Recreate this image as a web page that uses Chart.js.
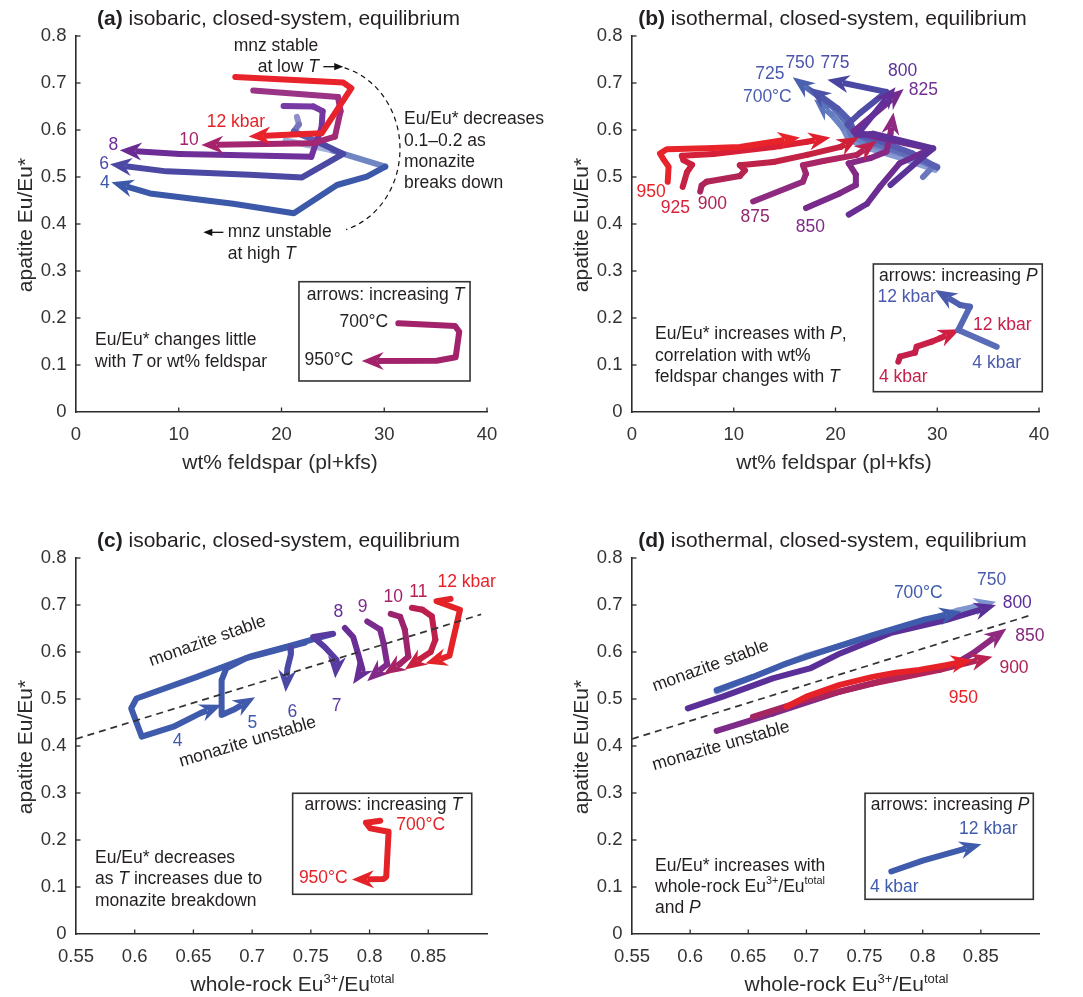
<!DOCTYPE html>
<html>
<head>
<meta charset="utf-8">
<title>Apatite Eu/Eu* along isobaric and isothermal paths</title>
<script src="https://cdn.jsdelivr.net/npm/chart.js@4.4.1/dist/chart.umd.min.js"></script>
<style>
  html, body { margin: 0; padding: 0; background: #fff; }
  #figure { position: relative; width: 1083px; height: 997px; overflow: hidden; background: #fff; }
  #figure canvas { position: absolute; }
</style>
</head>
<body>
<div id="figure">
  <canvas id="panelA" width="600" height="490" style="left:0;top:0;width:600px;height:490px"></canvas>
  <canvas id="panelB" width="542" height="490" style="left:541px;top:0;width:542px;height:490px"></canvas>
  <canvas id="panelC" width="600" height="507" style="left:0;top:490px;width:600px;height:507px"></canvas>
  <canvas id="panelD" width="542" height="507" style="left:541px;top:490px;width:542px;height:507px"></canvas>
</div>
<script>
const FONT = "'Liberation Sans', Arial, Helvetica, sans-serif";
const INK = '#231f20';
const AXIS = '#2b2b2b';

// ---- tick values ----
const yTicks = [0, 0.1, 0.2, 0.3, 0.4, 0.5, 0.6, 0.7, 0.8];
const xTicksFsp = [0, 10, 20, 30, 40];
const xTicksEu = [0.55, 0.6, 0.65, 0.7, 0.75, 0.8, 0.85];

// ---- (a) isobaric paths, 700 -> 950 °C: [wt% feldspar, apatite Eu/Eu*] ----
const a4kbar = [[20.4,0.578],[25.0,0.556],[30.1,0.522],[28.3,0.501],[25.4,0.483],[21.2,0.423],[15.3,0.443],[7.2,0.465],[3.45,0.489]];
const a6kbar = [[21.5,0.628],[21.7,0.612],[21.2,0.597],[23.5,0.575],[26.0,0.549],[22.0,0.499],[16.9,0.505],[8.8,0.512],[3.3,0.527]];
const a8kbar = [[20.2,0.651],[23.1,0.650],[24.0,0.640],[23.9,0.605],[23.4,0.575],[22.9,0.543],[15.0,0.547],[10.1,0.549],[4.26,0.557]];
const a10kbar = [[17.25,0.684],[25.5,0.670],[25.75,0.640],[25.2,0.586],[23.1,0.572],[12.2,0.568]];
const a12kbar = [[15.5,0.713],[26.0,0.701],[26.8,0.689],[23.9,0.593],[16.8,0.586]];
const aKey = [[31.37,0.1887],[36.89,0.183],[37.30,0.1709],[36.95,0.1164],[35.10,0.1091],[27.81,0.1085]];

// ---- (b) isothermal paths, 4 -> 12 kbar: [wt% feldspar, apatite Eu/Eu*] ----
const b700 = [[29.8,0.515],[26.5,0.540],[23.0,0.563],[21.3,0.580],[20.7,0.605],[19.6,0.633],[17.9,0.665]];
const b725 = [[30.0,0.522],[27.0,0.546],[23.5,0.568],[21.6,0.586],[21.1,0.615],[19.8,0.648],[15.8,0.712]];
const b750 = [[28.6,0.500],[29.6,0.523],[26.8,0.549],[23.8,0.572],[21.9,0.593],[21.4,0.620],[20.2,0.646],[17.4,0.690]];
const b775 = [[30.0,0.520],[27.5,0.551],[24.5,0.575],[22.0,0.592],[21.2,0.612],[22.4,0.636],[25.0,0.681],[19.2,0.707]];
const b800 = [[25.4,0.483],[28.6,0.543],[29.6,0.561],[23.7,0.592],[22.1,0.589],[25.9,0.691]];
const b825 = [[21.3,0.420],[23.1,0.443],[24.4,0.480],[26.3,0.529],[29.4,0.560],[24.0,0.585],[21.8,0.597],[26.7,0.687]];
const b850 = [[17.1,0.434],[20.4,0.465],[22.0,0.483],[22.0,0.505],[21.3,0.529],[23.4,0.540],[25.0,0.554],[25.4,0.592],[25.7,0.637]];
const b875 = [[11.9,0.448],[16.8,0.490],[17.1,0.507],[16.8,0.525],[18.8,0.534],[22.1,0.547],[24.05,0.577]];
const b900 = [[6.7,0.469],[6.85,0.482],[7.34,0.490],[10.6,0.502],[11.1,0.514],[10.6,0.525],[13.9,0.532],[17.2,0.547],[20.5,0.564],[22.3,0.585]];
const b925 = [[4.98,0.479],[5.4,0.510],[5.9,0.526],[5.06,0.536],[4.9,0.545],[8.0,0.549],[13.9,0.564],[17.2,0.575],[19.5,0.584]];
const b950 = [[3.51,0.490],[3.6,0.522],[3.14,0.536],[2.75,0.550],[3.41,0.559],[7.34,0.561],[10.6,0.564],[13.9,0.575],[16.5,0.584]];
const bKeyHot = [[26.17,0.107],[26.34,0.1177],[27.81,0.1262],[27.98,0.1389],[29.45,0.1496],[30.27,0.1568],[32.24,0.176]];
const bKeyCool = [[35.84,0.1389],[32.07,0.1745],[33.22,0.224],[32.24,0.2277],[29.78,0.2596]];

// ---- (c) isobaric paths: [whole-rock Eu3+/Eu total, apatite Eu/Eu*] ----
const c4kbar = [[0.768,0.638],[0.732,0.613],[0.698,0.590],[0.653,0.547],[0.6015,0.501],[0.597,0.480],[0.606,0.420],[0.633,0.441],[0.656,0.470],[0.674,0.488]];
const c5kbar = [[0.745,0.620],[0.7266,0.608],[0.695,0.587],[0.678,0.565],[0.674,0.540],[0.674,0.466],[0.684,0.477],[0.7025,0.5035]];
const c6kbar = [[0.7325,0.609],[0.733,0.595],[0.730,0.565],[0.7285,0.515]];
const c7kbar = [[0.769,0.639],[0.752,0.632],[0.762,0.610],[0.772,0.583],[0.7707,0.544]];
const c8kbar = [[0.779,0.651],[0.786,0.632],[0.790,0.598],[0.794,0.562],[0.786,0.532]];
const c9kbar = [[0.798,0.665],[0.809,0.648],[0.812,0.618],[0.815,0.574],[0.808,0.560],[0.798,0.538]];
const c10kbar = [[0.818,0.681],[0.826,0.675],[0.830,0.648],[0.833,0.590],[0.826,0.575],[0.812,0.552]];
const c11kbar = [[0.836,0.694],[0.845,0.690],[0.853,0.676],[0.856,0.626],[0.852,0.600],[0.843,0.585],[0.830,0.563]];
const c12kbar = [[0.869,0.713],[0.857,0.708],[0.877,0.690],[0.871,0.625],[0.868,0.592],[0.860,0.585],[0.8475,0.5755]];
const cKey = [[0.8091,0.241],[0.7969,0.2369],[0.8006,0.2248],[0.8162,0.2177],[0.8142,0.122],[0.8119,0.117],[0.7850,0.116]];

// monazite stability boundary
const mnzBoundary = [[0.55,0.415],[0.895,0.680]];

// ---- (d) isothermal paths: [whole-rock Eu3+/Eu total, apatite Eu/Eu*] ----
const d700 = [[0.6228,0.519],[0.654,0.547],[0.683,0.576],[0.7087,0.597],[0.757,0.636],[0.800,0.668],[0.8332,0.686]];
const d750 = [[0.6228,0.516],[0.70,0.592],[0.757,0.634],[0.800,0.665],[0.830,0.688],[0.863,0.707]];
const d800 = [[0.598,0.480],[0.628,0.505],[0.671,0.544],[0.703,0.565],[0.729,0.597],[0.772,0.640],[0.820,0.668],[0.863,0.700]];
const d850 = [[0.6228,0.432],[0.6714,0.4695],[0.7287,0.5155],[0.780,0.548],[0.826,0.572],[0.843,0.597],[0.872,0.650]];
const d900 = [[0.654,0.462],[0.700,0.498],[0.757,0.533],[0.8146,0.562],[0.860,0.590]];
const d950 = [[0.683,0.4836],[0.700,0.505],[0.7287,0.530],[0.757,0.547],[0.777,0.556],[0.797,0.562],[0.820,0.572],[0.843,0.583]];
const dKey = [[0.773,0.133],[0.800,0.156],[0.8505,0.191]];

// ---------------------------------------------------------------------
function hex(c) { const n = parseInt(c.slice(1), 16); return [(n >> 16) & 255, (n >> 8) & 255, n & 255]; }
function mix(a, b, t) {
  const A = hex(a), B = hex(b);
  const r = A.map((v, i) => Math.round(v + (B[i] - v) * t));
  return 'rgb(' + r[0] + ',' + r[1] + ',' + r[2] + ')';
}

// rich text: |..| italic, ^..^ superscript, #..# bold
function runs(str) {
  const out = []; let it = false, sup = false, bold = false, buf = '';
  for (const ch of str) {
    if (ch === '|' || ch === '^' || ch === '#') {
      if (buf) out.push({t: buf, it, sup, bold});
      buf = '';
      if (ch === '|') it = !it; else if (ch === '^') sup = !sup; else bold = !bold;
    } else buf += ch;
  }
  if (buf) out.push({t: buf, it, sup, bold});
  return out;
}
function fontFor(r, size) {
  const s = r.sup ? size * 0.62 : size;
  return (r.it ? 'italic ' : '') + (r.bold ? 'bold ' : '') + s + 'px ' + FONT;
}
function drawRich(ctx, str, x, y, size, color, align, baseline) {
  const rs = runs(str);
  let w = 0;
  rs.forEach(r => { ctx.font = fontFor(r, size); r.w = ctx.measureText(r.t).width; w += r.w; });
  let cx = align === 'center' ? x - w / 2 : align === 'right' ? x - w : x;
  ctx.fillStyle = color; ctx.textAlign = 'left'; ctx.textBaseline = baseline || 'middle';
  rs.forEach(r => {
    ctx.font = fontFor(r, size);
    ctx.fillText(r.t, cx, r.sup ? y - size * 0.36 : y);
    cx += r.w;
  });
}

function pathDataset(s, i) {
  const n = s.pts.length;
  const c0 = s.c0 || s.c1;
  const fade = s.fade || 1;
  const ds = {
    data: s.pts.map(p => ({x: p[0], y: p[1]})),
    showLine: true, pointRadius: 0, pointHoverRadius: 0,
    borderWidth: s.w || 6, borderColor: s.c1,
    borderCapStyle: 'round', borderJoinStyle: 'round',
    order: -i, clip: false,
    head: s.head === false ? null : {L: 22, W: 9, N: 15, color: s.c1}
  };
  if (c0 !== s.c1) {
    ds.segment = {borderColor: ctx => mix(c0, s.c1, Math.min(1, ctx.p0DataIndex / Math.max(1, (n - 1) * fade)))};
  }
  return ds;
}

function headGeom(meta) {
  const pts = meta.data;
  if (!pts || pts.length < 2) return null;
  const T = pts[pts.length - 1];
  let k = pts.length - 2, P = pts[k];
  while (k > 0 && Math.hypot(T.x - P.x, T.y - P.y) < 4) { k--; P = pts[k]; }
  const d = Math.hypot(T.x - P.x, T.y - P.y) || 1;
  const u = {x: (T.x - P.x) / d, y: (T.y - P.y) / d};
  return {T: {x: T.x, y: T.y}, u, n: {x: -u.y, y: u.x}};
}

// arrowheads at the end of each path; the line is trimmed under the point of the head
const arrowTips = {
  id: 'arrowTips',
  beforeDatasetDraw(chart, args) {
    const ds = chart.data.datasets[args.index];
    if (!ds.head) return;
    const g = headGeom(args.meta);
    if (!g) return;
    const {T, u, n} = g, L = ds.head.L * 0.7, W = ds.head.W * 0.7 + 0.5;
    const ctx = chart.ctx;
    ctx.save();
    ctx.beginPath();
    ctx.rect(-5, -5, chart.width + 10, chart.height + 10);
    ctx.moveTo(T.x + u.x * 4 + n.x * 3.8, T.y + u.y * 4 + n.y * 3.8);
    ctx.lineTo(T.x + u.x * 4 - n.x * 3.8, T.y + u.y * 4 - n.y * 3.8);
    ctx.lineTo(T.x - u.x * L - n.x * W, T.y - u.y * L - n.y * W);
    ctx.lineTo(T.x - u.x * L + n.x * W, T.y - u.y * L + n.y * W);
    ctx.closePath();
    ctx.clip('evenodd');
    ds._trimmed = true;
  },
  afterDatasetDraw(chart, args) {
    const ds = chart.data.datasets[args.index];
    if (!ds.head) return;
    const ctx = chart.ctx;
    if (ds._trimmed) { ctx.restore(); ds._trimmed = false; }
    const g = headGeom(args.meta);
    if (!g) return;
    const {T, u, n} = g, {L, W, N, color} = ds.head;
    ctx.save();
    ctx.fillStyle = color;
    ctx.beginPath();
    ctx.moveTo(T.x, T.y);
    ctx.lineTo(T.x - u.x * L + n.x * W, T.y - u.y * L + n.y * W);
    ctx.lineTo(T.x - u.x * N, T.y - u.y * N);
    ctx.lineTo(T.x - u.x * L - n.x * W, T.y - u.y * L - n.y * W);
    ctx.closePath();
    ctx.fill();
    ctx.restore();
  }
};

function thinArrow(ctx, x1, y1, x2, y2) {
  const d = Math.hypot(x2 - x1, y2 - y1), ux = (x2 - x1) / d, uy = (y2 - y1) / d;
  ctx.beginPath(); ctx.moveTo(x1, y1); ctx.lineTo(x2 - ux * 5, y2 - uy * 5); ctx.stroke();
  ctx.beginPath();
  ctx.moveTo(x2, y2);
  ctx.lineTo(x2 - ux * 9 - uy * 3.6, y2 - uy * 9 + ux * 3.6);
  ctx.lineTo(x2 - ux * 9 + uy * 3.6, y2 - uy * 9 - ux * 3.6);
  ctx.closePath(); ctx.fill();
}

function makeDecor(p) {
  return {
    id: 'decor',
    afterDraw(chart) {
      const {ctx, chartArea: ca} = chart;
      const xs = chart.scales.x, ys = chart.scales.y;
      const X = v => xs.getPixelForValue(v), Y = v => ys.getPixelForValue(v);
      ctx.save();
      // inward tick marks
      ctx.strokeStyle = AXIS; ctx.lineWidth = 1.3;
      xs.ticks.forEach(t => {
        if (Math.abs(t.value - p.xMin) < 1e-9) return;
        const px = X(t.value);
        ctx.beginPath(); ctx.moveTo(px, ca.bottom); ctx.lineTo(px, ca.bottom - 4.5); ctx.stroke();
      });
      ys.ticks.forEach(t => {
        if (Math.abs(t.value) < 1e-9) return;
        const py = Y(t.value);
        ctx.beginPath(); ctx.moveTo(ca.left, py); ctx.lineTo(ca.left + 4.5, py); ctx.stroke();
      });
      // key boxes
      ctx.strokeStyle = '#333'; ctx.lineWidth = 1.6;
      p.boxes.forEach(b => {
        ctx.strokeRect(X(b[0]), Y(b[1]), X(b[2]) - X(b[0]), Y(b[3]) - Y(b[1]));
      });
      // panel title and axis titles
      const cx = (ca.left + ca.right) / 2;
      drawRich(ctx, p.title, cx - 3, ca.top - 17, 21, INK, 'center');
      drawRich(ctx, p.xTitle, cx + p.xTitleShift, ca.bottom + 57, 21, '#2b2b2b', 'center', 'alphabetic');
      ctx.save();
      ctx.translate(ca.left - 44.5, (ca.top + ca.bottom) / 2 + 1);
      ctx.rotate(-Math.PI / 2);
      drawRich(ctx, 'apatite Eu/Eu*', 0, 0, 21, '#2b2b2b', 'center', 'alphabetic');
      ctx.restore();
      // text labels
      p.labels.forEach(l => {
        const [x, y, s, color, align, rot, base] = l;
        if (rot) {
          ctx.save();
          ctx.translate(X(x), Y(y));
          ctx.rotate(rot * Math.PI / 180);
          drawRich(ctx, s, 0, 0, 17.5, color, align, base);
          ctx.restore();
        } else {
          drawRich(ctx, s, X(x), Y(y), 17.5, color, align, base);
        }
      });
      if (p.extra) p.extra(ctx, X, Y);
      ctx.restore();
    }
  };
}

function axisCfg(isX, ticksArr, min, max, size) {
  return {
    type: 'linear', min, max,
    afterBuildTicks: s => { s.ticks = ticksArr.map(v => ({value: v})); },
    afterFit: s => { if (isX) s.height = size; else s.width = size; },
    grid: {display: false, drawTicks: false},
    border: {display: true, color: AXIS, width: 1.6},
    ticks: {
      color: '#333', font: {family: FONT, size: 18.5}, padding: isX ? 12 : 9.5,
      autoSkip: false, maxRotation: 0, minRotation: 0,
      callback: v => String(+Number(v).toFixed(2))
    }
  };
}

function buildPanel(p) {
  const datasets = p.series.map((s, i) => pathDataset(s, i));
  if (p.refLine) {
    datasets.push({
      data: p.refLine.map(q => ({x: q[0], y: q[1]})),
      showLine: true, pointRadius: 0, borderWidth: 1.7, borderColor: '#333',
      borderDash: [7, 5], order: -100, head: null, clip: false
    });
  }
  new Chart(document.getElementById(p.id), {
    type: 'scatter',
    data: {datasets},
    options: {
      responsive: false, animation: false, devicePixelRatio: 1, events: [],
      layout: {padding: {left: 0, top: p.padTop, right: p.padRight, bottom: 0}},
      plugins: {legend: {display: false}, tooltip: {enabled: false}, title: {display: false}},
      scales: {
        x: axisCfg(true, p.xTicks, p.xMin, p.xMax, p.xAxisH),
        y: axisCfg(false, yTicks, 0, 0.8, p.yAxisW)
      }
    },
    plugins: [arrowTips, makeDecor(p)]
  });
}

// ---------------------------------------------------------------------
const RED = '#e62228';

buildPanel({
  id: 'panelA', xMin: 0, xMax: 40, xTicks: xTicksFsp,
  padTop: 36, padRight: 113, xAxisH: 78, yAxisW: 76,
  title: '#(a)# isobaric, closed-system, equilibrium',
  xTitle: 'wt% feldspar (pl+kfs)', xTitleShift: -1.5,
  series: [
    {pts: a4kbar, c0: '#a3b3dd', c1: '#3b58a9', fade: 0.25},
    {pts: a6kbar, c0: '#8f8fcb', c1: '#4c49a5', fade: 0.35},
    {pts: a8kbar, c0: '#7a3aa6', c1: '#6a2b95'},
    {pts: a10kbar, c0: '#9a3486', c1: '#a8226a'},
    {pts: a12kbar, c1: '#e8232b'},
    {pts: aKey, c1: '#a2236b'}
  ],
  boxes: [[21.70, 0.2772, 38.35, 0.066]],
  labels: [
    [19.46, 0.7787, 'mnz stable', INK, 'center'],
    [17.68, 0.7347, 'at low |T|', INK, 'left'],
    [31.92, 0.6234, 'Eu/Eu* decreases', INK, 'left'],
    [31.92, 0.5772, '0.1–0.2 as', INK, 'left'],
    [31.92, 0.5313, 'monazite', INK, 'left'],
    [31.92, 0.4866, 'breaks down', INK, 'left'],
    [14.76, 0.3823, 'mnz unstable', INK, 'left'],
    [14.76, 0.3362, 'at high |T|', INK, 'left'],
    [15.57, 0.6177, '12 kbar', RED, 'center'],
    [11.0, 0.5787, '10', '#a5236a', 'center'],
    [3.63, 0.568, '8', '#6c2e96', 'center'],
    [2.73, 0.5277, '6', '#4d4aa6', 'center'],
    [2.82, 0.4866, '4', '#3b58a9', 'center'],
    [1.85, 0.1532, 'Eu/Eu* changes little', INK, 'left'],
    [1.85, 0.107, 'with |T| or wt% feldspar', INK, 'left'],
    [30.13, 0.2489, 'arrows: increasing |T|', INK, 'center'],
    [30.39, 0.1921, '700°C', INK, 'right'],
    [26.99, 0.1106, '950°C', INK, 'right']
  ],
  extra(ctx, X, Y) {
    ctx.strokeStyle = '#111'; ctx.fillStyle = '#111'; ctx.lineWidth = 1.3;
    thinArrow(ctx, X(24.07), Y(0.7347), X(26.01), Y(0.7347));
    thinArrow(ctx, X(14.34), Y(0.3823), X(12.39), Y(0.3823));
    // monazite-breakdown bracket
    const cx = X(24.23), cy = Y(0.5596);
    const rx = X(24.23 + 7.30) - cx, ry = Y(0.5596 - 0.1787) - cy;
    ctx.setLineDash([5, 4]); ctx.lineWidth = 1.2;
    ctx.beginPath(); ctx.ellipse(cx, cy, rx, ry, 0, -1.306, 1.285); ctx.stroke();
    ctx.setLineDash([]);
  }
});

buildPanel({
  id: 'panelB', xMin: 0, xMax: 40, xTicks: xTicksFsp,
  padTop: 36, padRight: 44, xAxisH: 78, yAxisW: 91,
  title: '#(b)# isothermal, closed-system, equilibrium',
  xTitle: 'wt% feldspar (pl+kfs)', xTitleShift: -1.5,
  series: [
    {pts: b700, c0: '#8da0d6', c1: '#5a74bd'},
    {pts: b725, c0: '#7b8fcc', c1: '#4c60b0'},
    {pts: b750, c0: '#6a78c0', c1: '#4b52a8'},
    {pts: b775, c0: '#5b5fb4', c1: '#4945a1'},
    {pts: b850, c0: '#7a2a8a', c1: '#8e2880'},
    {pts: b825, c0: '#6a2d93', c1: '#762b8c'},
    {pts: b800, c0: '#5a3298', c1: '#63309a'},
    {pts: b875, c0: '#8e2a80', c1: '#c0224e'},
    {pts: b900, c0: '#a8255e', c1: '#cf2038'},
    {pts: b925, c0: '#c72045', c1: '#e0202e'},
    {pts: b950, c1: '#e8232a'},
    {pts: bKeyHot, c0: '#c0204e', c1: '#d01f40'},
    {pts: bKeyCool, c0: '#5a6cb8', c1: '#4a5aad'}
  ],
  boxes: [[23.72, 0.3149, 40.32, 0.0432]],
  labels: [
    [13.56, 0.7191, '725', '#4a5aad', 'center'],
    [16.51, 0.7432, '750', '#4a55aa', 'center'],
    [19.95, 0.7432, '775', '#4a4ea6', 'center'],
    [13.30, 0.6696, '700°C', '#4a5eb0', 'center'],
    [26.60, 0.7262, '800', '#5e3298', 'center'],
    [28.63, 0.6851, '825', '#72308f', 'center'],
    [1.87, 0.4687, '950', RED, 'center'],
    [4.26, 0.4334, '925', '#d8203a', 'center'],
    [7.89, 0.4426, '900', '#b02255', 'center'],
    [12.09, 0.4143, '875', '#932870', 'center'],
    [17.52, 0.3943, '850', '#7e2a88', 'center'],
    [32.07, 0.2894, 'arrows: increasing |P|', INK, 'center'],
    [27.0, 0.2453, '12 kbar', '#4a5aad', 'center'],
    [36.39, 0.1851, '12 kbar', '#c8204a', 'center'],
    [35.84, 0.1049, '4 kbar', '#4a5aad', 'center'],
    [26.66, 0.0751, '4 kbar', '#c8204a', 'center'],
    [2.26, 0.1653, 'Eu/Eu* increases with |P|,', INK, 'left'],
    [2.26, 0.1191, 'correlation with wt%', INK, 'left'],
    [2.26, 0.0738, 'feldspar changes with |T|', INK, 'left']
  ]
});

buildPanel({
  id: 'panelC', xMin: 0.55, xMax: 0.9, xTicks: xTicksEu,
  padTop: 68, padRight: 113, xAxisH: 63, yAxisW: 76,
  title: '#(c)# isobaric, closed-system, equilibrium',
  xTitle: 'whole-rock Eu^3+^/Eu^total^', xTitleShift: 11,
  series: [
    {pts: c4kbar, c1: '#3f5bab'},
    {pts: c5kbar, c1: '#4159ab'},
    {pts: c6kbar, c1: '#4a4aa6'},
    {pts: c7kbar, c1: '#583ba0'},
    {pts: c8kbar, c1: '#6a2d96'},
    {pts: c9kbar, c0: '#7a2b8e', c1: '#83298a'},
    {pts: c10kbar, c0: '#98236f', c1: '#a82364'},
    {pts: c11kbar, c0: '#b81f50', c1: '#c8203e'},
    {pts: c12kbar, c1: '#e42328'},
    {pts: cKey, c1: '#e42328'}
  ],
  refLine: mnzBoundary,
  boxes: [[0.7345, 0.2994, 0.8870, 0.0845]],
  labels: [
    [0.6366, 0.4113, '4', '#3f5bab', 'center'],
    [0.7001, 0.4483, '5', '#3f5bab', 'center'],
    [0.7342, 0.473, '6', '#4a4aa6', 'center'],
    [0.772, 0.4851, '7', '#5a3ba0', 'center'],
    [0.7734, 0.6857, '8', '#6a2d96', 'center'],
    [0.7941, 0.6964, '9', '#7f2a8b', 'center'],
    [0.8202, 0.7177, '10', '#a02369', 'center'],
    [0.8415, 0.7283, '11', '#b8204f', 'center'],
    [0.8827, 0.7496, '12 kbar', RED, 'center'],
    [0.6633, 0.6134, 'monazite stable', INK, 'center', -19.5, 'alphabetic'],
    [0.6973, 0.3986, 'monazite unstable', INK, 'center', -16.5, 'alphabetic'],
    [0.8117, 0.2745, 'arrows: increasing |T|', INK, 'center'],
    [0.8435, 0.2319, '700°C', RED, 'center'],
    [0.7606, 0.1185, '950°C', RED, 'center'],
    [0.5662, 0.1623, 'Eu/Eu* decreases', INK, 'left'],
    [0.5662, 0.1164, 'as |T| increases due to', INK, 'left'],
    [0.5662, 0.0709, 'monazite breakdown', INK, 'left']
  ]
});

buildPanel({
  id: 'panelD', xMin: 0.55, xMax: 0.9, xTicks: xTicksEu,
  padTop: 68, padRight: 44, xAxisH: 63, yAxisW: 91,
  title: '#(d)# isothermal, closed-system, equilibrium',
  xTitle: 'whole-rock Eu^3+^/Eu^total^', xTitleShift: 11,
  series: [
    {pts: d850, c0: '#7d2a88', c1: '#8f2a7e'},
    {pts: d900, c0: '#a52560', c1: '#b82352'},
    {pts: d950, c1: '#e62228'},
    {pts: d750, c0: '#8ea2d6', c1: '#7d93cc'},
    {pts: d800, c1: '#5b2f98'},
    {pts: d700, c1: '#3f5bab'},
    {pts: dKey, c1: '#3f5bab'}
  ],
  refLine: mnzBoundary,
  boxes: [[0.7504, 0.2994, 0.8951, 0.0738]],
  labels: [
    [0.7962, 0.7249, '700°C', '#3f5bab', 'center'],
    [0.8593, 0.7532, '750', '#4a5cab', 'center'],
    [0.8813, 0.7036, '800', '#5b2f98', 'center'],
    [0.8922, 0.634, '850', '#85287e', 'center'],
    [0.8785, 0.5653, '900', '#b02255', 'center'],
    [0.8349, 0.5015, '950', RED, 'center'],
    [0.619, 0.5603, 'monazite stable', INK, 'center', -20, 'alphabetic'],
    [0.6277, 0.39, 'monazite unstable', INK, 'center', -16, 'alphabetic'],
    [0.8235, 0.2745, 'arrows: increasing |P|', INK, 'center'],
    [0.8564, 0.2234, '12 kbar', '#3f5bab', 'center'],
    [0.7756, 0.1006, '4 kbar', '#3f5bab', 'center'],
    [0.5698, 0.1447, 'Eu/Eu* increases with', INK, 'left'],
    [0.5698, 0.0994, 'whole-rock Eu^3+^/Eu^total^', INK, 'left'],
    [0.5698, 0.0547, 'and |P|', INK, 'left']
  ]
});
</script>
</body>
</html>
